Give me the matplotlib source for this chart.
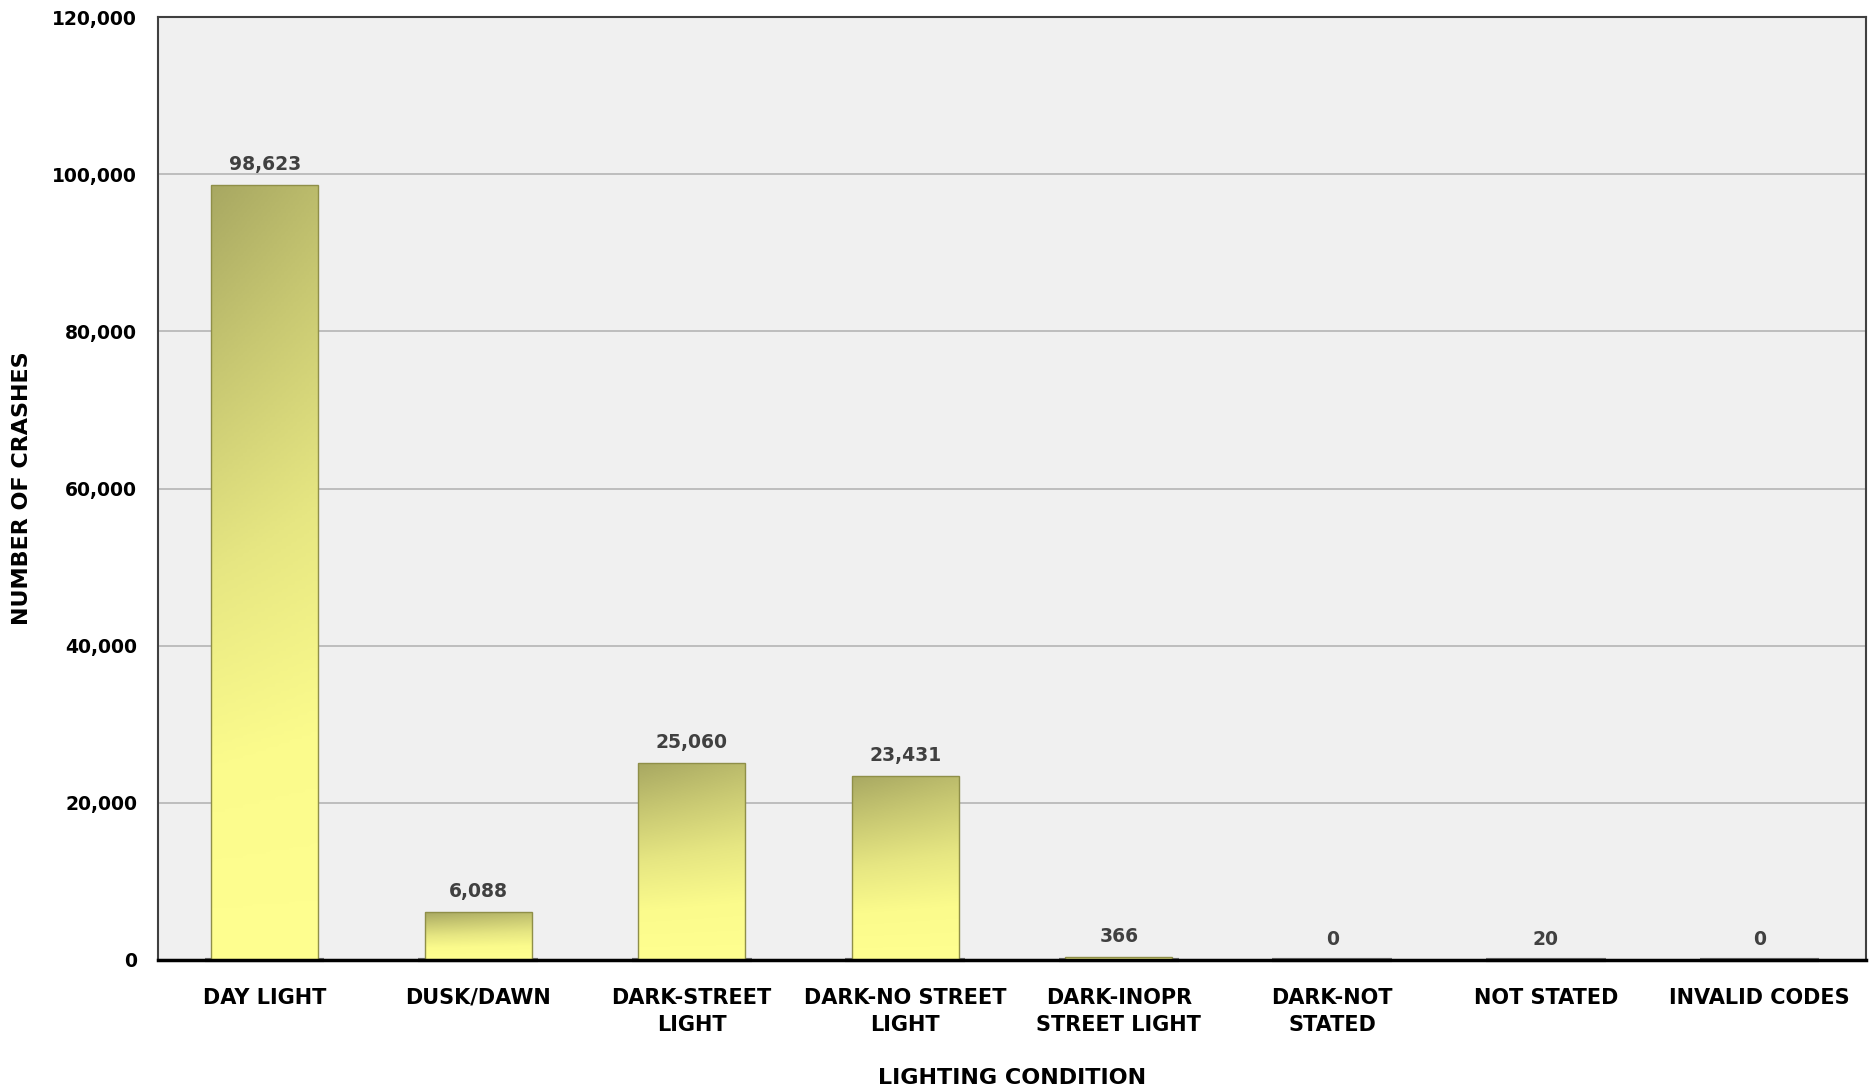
import numpy as np
import matplotlib
matplotlib.use("Agg")
from matplotlib import pyplot as plt
from matplotlib.colors import LinearSegmentedColormap
from matplotlib.ticker import FuncFormatter

categories = ["DAY LIGHT", "DUSK/DAWN", "DARK-STREET\nLIGHT", "DARK-NO STREET\nLIGHT",
              "DARK-INOPR\nSTREET LIGHT", "DARK-NOT\nSTATED", "NOT STATED", "INVALID CODES"]
crashes = [98623, 6088, 25060, 23431, 366, 0, 20, 0]

plt.rcParams["font.family"] = ["DejaVu Sans"]
plt.rcParams["font.weight"] = "bold"

fig = plt.figure(figsize=(18.76, 10.92), dpi=100)
ax = fig.add_axes([0.0842, 0.1209, 0.9105, 0.8635])
ax.set_facecolor("#f0f0f0")

x = np.arange(len(categories))
width = 0.5
bars = ax.bar(x, crashes, width=width, color="none", edgecolor="#8f8f48", linewidth=1.0, zorder=3)

# gradient fill per bar: olive at top, light yellow at bottom
cmap = LinearSegmentedColormap.from_list("bar", ["#ffff90", "#fbfb8c", "#e6e682", "#c8c872", "#a8a862"])
gy = np.linspace(0, 1, 200)[:, None]
gx = np.linspace(0, 1, 60)[None, :]
grad = np.clip(gy * (1.0 - 0.15 * gx), 0, 1)
for b in bars:
    h = b.get_height()
    if h <= 0:
        continue
    im = ax.imshow(grad, cmap=cmap, vmin=0, vmax=1, origin="lower", aspect="auto",
                   extent=[b.get_x(), b.get_x() + b.get_width(), 0, h], zorder=2)
    im.set_clip_path(b)

# shadows under bars
for xi in x:
    ax.plot([xi - 0.28, xi + 0.28], [0, 0], color="#7a7a7a", lw=3, zorder=1,
            solid_capstyle="butt", clip_on=False)

for xi, v in zip(x, crashes):
    ax.annotate(f"{v:,}", (xi, v), xytext=(0, 8), textcoords="offset points",
                ha="center", va="bottom", fontsize=13.5, color="#404040", fontweight="bold")

ax.set_xlim(-0.5, len(categories) - 0.5)
ax.set_ylim(0, 120000)
ax.set_yticks(np.arange(0, 120001, 20000))
ax.yaxis.set_major_formatter(FuncFormatter(lambda v, p: f"{int(v):,}"))
ax.set_xticks(x)
ax.set_xticklabels(categories, fontsize=15, fontweight="bold", linespacing=1.45)
ax.tick_params(axis="y", labelsize=13.5, length=0, pad=15)
ax.tick_params(axis="x", length=0, pad=20)
for lbl in ax.get_yticklabels():
    lbl.set_fontweight("bold")
ax.grid(axis="y", color="#b4b4b4", linewidth=1.2, zorder=0)
ax.set_axisbelow(True)

for s in ["top", "left", "right"]:
    ax.spines[s].set_color("#404040")
    ax.spines[s].set_linewidth(1.5)
ax.spines["bottom"].set_color("black")
ax.spines["bottom"].set_linewidth(2.5)
ax.spines["bottom"].set_zorder(4)

ax.set_xlabel("LIGHTING CONDITION", fontsize=16, fontweight="bold", labelpad=24)
ax.set_ylabel("NUMBER OF CRASHES", fontsize=16, fontweight="bold")
ax.yaxis.set_label_coords(-0.074, 0.5)

fig.savefig("out.png", dpi=100)
